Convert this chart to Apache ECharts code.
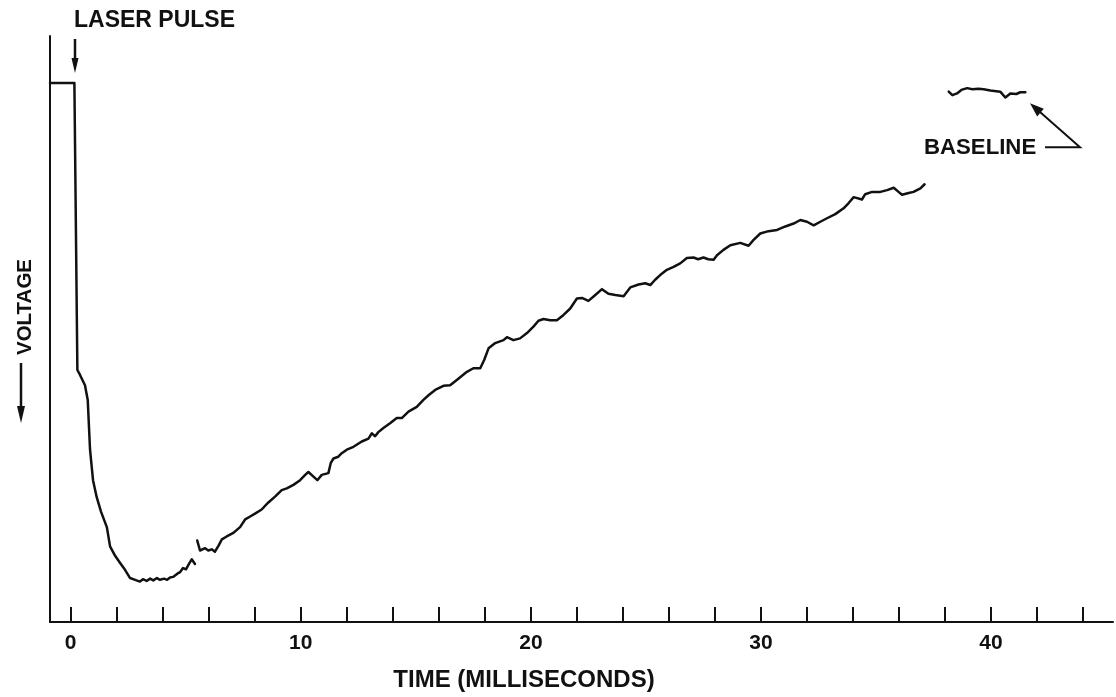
<!DOCTYPE html>
<html>
<head>
<meta charset="utf-8">
<script src="https://cdn.jsdelivr.net/npm/echarts@6/dist/echarts.min.js"></script>
<style>
  html, body { margin: 0; padding: 0; background: #fff; }
  #chart { width: 1116px; height: 697px; }
</style>
</head>
<body>
<div id="chart"></div>
<script>
// Time in milliseconds, voltage in arbitrary relative units (0 = axis, 100 = top of frame)
var pulseAndDecay = [
  [-0.90, 92.0], [0.16, 92.0], [0.29, 43.0], [0.40, 42.2], [0.62, 40.4], [0.74, 37.9],
  [0.84, 29.4], [0.97, 24.2], [1.13, 21.3], [1.32, 18.8], [1.57, 16.2], [1.71, 12.9],
  [1.93, 11.3], [2.14, 10.1], [2.36, 8.9], [2.58, 7.5], [2.80, 7.2], [3.01, 6.9],
  [3.14, 7.3], [3.30, 7.0], [3.45, 7.4], [3.59, 7.1], [3.75, 7.5], [3.88, 7.2],
  [4.06, 7.4], [4.19, 7.2], [4.32, 7.6], [4.45, 7.7], [4.62, 8.2], [4.75, 8.5],
  [4.88, 9.2], [5.01, 9.0], [5.14, 9.9], [5.26, 10.7], [5.40, 9.9]
];
var recoveryTrace = [
  [5.50, 13.9], [5.62, 12.2], [5.84, 12.6], [5.98, 12.2], [6.13, 12.4], [6.27, 12.0],
  [6.42, 13.0], [6.57, 14.1], [6.78, 14.6], [7.07, 15.2], [7.36, 16.2], [7.58, 17.5],
  [7.80, 18.0], [8.01, 18.5], [8.30, 19.2], [8.59, 20.4], [8.88, 21.4], [9.17, 22.5],
  [9.39, 22.8], [9.68, 23.4], [9.97, 24.2], [10.19, 25.1], [10.33, 25.6], [10.55, 24.8],
  [10.72, 24.2], [10.91, 25.1], [11.20, 25.4], [11.30, 27.1], [11.42, 27.9], [11.63, 28.2],
  [11.78, 28.8], [12.00, 29.4], [12.29, 29.9], [12.65, 30.8], [12.94, 31.3], [13.09, 32.2],
  [13.23, 31.7], [13.37, 32.4], [13.59, 33.1], [13.88, 33.9], [14.17, 34.8], [14.39, 34.8],
  [14.68, 35.9], [15.04, 36.7], [15.33, 37.9], [15.55, 38.7], [15.84, 39.6], [16.20, 40.3],
  [16.49, 40.4], [16.78, 41.3], [17.22, 42.7], [17.50, 43.3], [17.80, 43.3], [17.97, 44.7],
  [18.16, 46.7], [18.45, 47.6], [18.81, 48.1], [18.96, 48.6], [19.24, 48.1], [19.53, 48.4],
  [19.83, 49.3], [20.11, 50.4], [20.33, 51.4], [20.55, 51.7], [20.84, 51.5], [21.13, 51.5],
  [21.42, 52.4], [21.71, 53.5], [22.00, 55.2], [22.22, 55.3], [22.50, 54.8], [22.80, 55.8],
  [23.09, 56.8], [23.37, 56.0], [23.67, 55.8], [24.03, 55.6], [24.32, 57.1], [24.68, 57.6],
  [24.97, 57.8], [25.19, 57.5], [25.40, 58.4], [25.62, 59.2], [25.91, 60.1], [26.20, 60.6],
  [26.49, 61.2], [26.78, 62.1], [27.07, 62.2], [27.27, 61.9], [27.50, 62.2], [27.71, 61.9],
  [27.94, 61.8], [28.09, 62.6], [28.37, 63.5], [28.67, 64.3], [29.10, 64.7], [29.46, 64.2],
  [29.68, 65.2], [29.97, 66.3], [30.33, 66.7], [30.70, 66.9], [31.06, 67.5], [31.42, 68.0],
  [31.71, 68.6], [32.00, 68.3], [32.29, 67.7], [32.58, 68.3], [32.87, 68.9], [33.23, 69.6],
  [33.59, 70.6], [33.81, 71.5], [34.03, 72.5], [34.39, 72.1], [34.53, 73.0], [34.83, 73.4],
  [35.19, 73.4], [35.48, 73.7], [35.77, 74.1], [35.98, 73.4], [36.13, 72.9], [36.42, 73.2],
  [36.63, 73.4], [36.93, 74.0], [37.11, 74.7]
];
var baselineTrace = [
  [38.16, 90.5], [38.32, 89.9], [38.52, 90.2], [38.71, 90.8], [38.96, 91.1], [39.19, 90.9],
  [39.45, 91.0], [39.68, 90.9], [39.97, 90.7], [40.40, 90.5], [40.62, 89.5], [40.84, 90.2],
  [41.10, 90.1], [41.27, 90.4], [41.49, 90.4]
];
var xTickValues = [0, 2, 4, 6, 8, 10, 12, 14, 16, 18, 20, 22, 24, 26, 28, 30, 32, 34, 36, 38, 40, 42, 44];
var xLabelValues = [0, 10, 20, 30, 40];
var xAxisTitle = 'TIME (MILLISECONDS)';
var yAxisTitle = 'VOLTAGE';
var pulseLabel = 'LASER PULSE';
var baselineLabel = 'BASELINE';

var INK = '#111';
var FONT = '"Liberation Sans", Arial, sans-serif';

var chart = echarts.init(document.getElementById('chart'), null, { renderer: 'canvas' });

function traceSeries(name, data) {
  return {
    name: name, type: 'line', data: data, showSymbol: false, symbol: 'none',
    smooth: false, animation: false, silent: true,
    lineStyle: { color: INK, width: 2.5, join: 'round', cap: 'round' }
  };
}

chart.setOption({
  backgroundColor: '#fff',
  animation: false,
  grid: { left: 50, right: 3, top: 36, bottom: 75, containLabel: false, outerBoundsMode: 'none' },
  xAxis: {
    type: 'value', min: -0.9, max: 45.3,
    axisLine: { show: true, onZero: false, lineStyle: { color: INK, width: 2 } },
    axisTick: { show: true, inside: true, length: 15, customValues: xTickValues, lineStyle: { color: INK, width: 2 } },
    axisLabel: { show: true, customValues: xLabelValues, margin: 11, color: INK, fontSize: 21, fontFamily: FONT, fontWeight: 'bold' },
    splitLine: { show: false }
  },
  yAxis: {
    type: 'value', min: 0, max: 100,
    axisLine: { show: true, onZero: false, lineStyle: { color: INK, width: 2 } },
    axisTick: { show: false }, axisLabel: { show: false }, splitLine: { show: false }
  },
  series: [
    traceSeries('pulse', pulseAndDecay),
    traceSeries('recovery', recoveryTrace),
    traceSeries('baseline', baselineTrace)
  ],
  graphic: [
    { type: 'text', x: 74, y: 21, style: { text: pulseLabel, fill: INK, font: 'bold 23px ' + FONT, textAlign: 'left', textVerticalAlign: 'middle', verticalAlign: 'middle' } },
    { type: 'line', shape: { x1: 75, y1: 39, x2: 75, y2: 64 }, style: { stroke: INK, lineWidth: 2.5 } },
    { type: 'polygon', shape: { points: [[75, 73], [71.5, 58], [78.5, 58]] }, style: { fill: INK } },

    { type: 'text', x: 25, y: 307, rotation: Math.PI / 2, style: { text: yAxisTitle, fill: INK, font: 'bold 20.5px ' + FONT, textAlign: 'center', textVerticalAlign: 'middle', verticalAlign: 'middle' } },
    { type: 'line', shape: { x1: 21, y1: 363, x2: 21, y2: 412 }, style: { stroke: INK, lineWidth: 2.5 } },
    { type: 'polygon', shape: { points: [[21, 423], [17, 406], [25, 406]] }, style: { fill: INK } },

    { type: 'text', x: 924, y: 148, style: { text: baselineLabel, fill: INK, font: 'bold 22.2px ' + FONT, textAlign: 'left', textVerticalAlign: 'middle', verticalAlign: 'middle' } },
    { type: 'polyline', shape: { points: [[1045, 147.3], [1080, 147.3], [1038, 110.3]] }, style: { stroke: INK, lineWidth: 2, fill: null } },
    { type: 'polygon', shape: { points: [[1030, 103.3], [1043.8, 108.8], [1037.2, 116.4]] }, style: { fill: INK } },

    { type: 'text', x: 524, y: 680, style: { text: xAxisTitle, fill: INK, font: 'bold 24px ' + FONT, textAlign: 'center', textVerticalAlign: 'middle', verticalAlign: 'middle' } }
  ]
});
</script>
</body>
</html>
